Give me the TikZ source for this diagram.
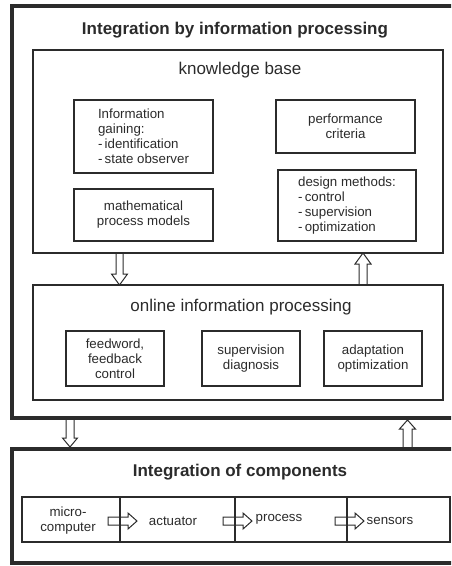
\documentclass[tikz,border=0pt]{standalone}
\usepackage{fontspec}
\setmainfont{Liberation Sans}
\usetikzlibrary{calc}
\definecolor{ink}{HTML}{2B2B2B}
\newcommand{\hblockarrow}[1]{%
  \draw[barrow] ($(#1.east)+(-12,-2.5)$) -- ($(#1.east)+(8,-2.5)$) -- ($(#1.east)+(8,-6.5)$)
    -- ($(#1.east)+(17,1.5)$) -- ($(#1.east)+(8,9.5)$) -- ($(#1.east)+(8,5.5)$)
    -- ($(#1.east)+(-12,5.5)$) -- cycle;}
\begin{document}
\begin{tikzpicture}[x=1pt,y=-1pt,
  outerbox/.style={draw=ink, line width=4pt, outer sep=0pt, inner sep=0pt, anchor=north west},
  box/.style={draw=ink, line width=1.4pt, outer sep=0pt, inner sep=0pt, text=ink,
              font=\fontsize{13.3}{15}\selectfont},
  celltext/.style={inner sep=0pt, text=ink, font=\fontsize{13.3}{15}\selectfont, align=center},
  bigtitle/.style={font=\bfseries\fontsize{17}{20}\selectfont, text=ink, inner sep=0pt},
  subtitle/.style={font=\fontsize{17}{20}\selectfont, text=ink, inner sep=0pt},
  barrow/.style={draw=ink, line width=1pt, line join=miter},
]
\useasboundingbox (0,0) rectangle (451,566);
\clip (0,0) rectangle (451,566);

% outer frames
\node[outerbox, minimum width=460pt, minimum height=412pt] (outer1) at (12,6) {};
\node[outerbox, minimum width=460pt, minimum height=114pt] (outer2) at (12,449) {};

\node[bigtitle] (t1) at (235,30) {Integration by information processing};

% knowledge base
\node[box, minimum width=410pt, minimum height=203pt] (kb) at (238,151.5) {};
\node[subtitle] (kbt) at (240,70) {knowledge base};
\node[box, minimum width=139pt, minimum height=73pt, align=left] (info) at (143.5,136.5)
  {Information\\gaining:\\-\,identification\\-\,state observer};
\node[box, minimum width=139pt, minimum height=53pt, align=center] (perf) at (345.5,126.5)
  {performance\\criteria};
\node[box, minimum width=139pt, minimum height=52pt, align=center] (math) at (143.5,215)
  {mathematical\\process models};
\node[box, minimum width=138pt, minimum height=71pt, align=left] (design) at (347,205.5)
  {design methods:\\-\,control\\-\,supervision\\-\,optimization};

% online information processing
\node[box, minimum width=410pt, minimum height=115pt] (oip) at (238,342.5) {};
\node[subtitle] (oipt) at (241,307) {online information processing};
\node[box, minimum width=98pt, minimum height=55pt, align=center] (feed) at (115,358.5)
  {feedword,\\feedback\\control};
\node[box, minimum width=98pt, minimum height=55pt, align=center] (sup) at (251,358.5)
  {supervision\\diagnosis};
\node[box, minimum width=98pt, minimum height=55pt, align=center] (adapt) at (373,358.5)
  {adaptation\\optimization};

% integration of components
\node[bigtitle] (t2) at (240,472) {Integration of components};
\node[box, minimum width=98pt, minimum height=45pt] (c1) at (71,519.5) {};
\node[box, minimum width=115pt, minimum height=45pt] (c2) at (177.5,519.5) {};
\node[box, minimum width=112pt, minimum height=45pt] (c3) at (291,519.5) {};
\node[box, minimum width=103pt, minimum height=45pt] (c4) at (398.5,519.5) {};
\node[celltext] (c1t) at (68,521) {micro-\\computer};
\node[celltext] (c2t) at (173,521) {actuator};
\node[celltext] (c3t) at (279,519.5) {process};
\node[celltext] (c4t) at (390,521) {sensors};

\hblockarrow{c1}
\hblockarrow{c2}
\hblockarrow{c3}

% block arrows between levels
\coordinate (a1) at (119.5,0);
\draw[barrow] ($(kb.south -| a1)+(-3.5,0)$) -- ($(oip.north -| a1)+(-3.5,-11)$)
  -- ($(oip.north -| a1)+(-8,-11)$) -- (oip.north -| a1) -- ($(oip.north -| a1)+(8,-11)$)
  -- ($(oip.north -| a1)+(3.5,-11)$) -- ($(kb.south -| a1)+(3.5,0)$);

\coordinate (a2) at (363,0);
\draw[barrow] ($(oip.north -| a2)+(-4,0)$) -- ($(kb.south -| a2)+(-4,11)$)
  -- ($(kb.south -| a2)+(-8,11)$) -- (kb.south -| a2) -- ($(kb.south -| a2)+(8,11)$)
  -- ($(kb.south -| a2)+(4,11)$) -- ($(oip.north -| a2)+(4,0)$);

\coordinate (a3) at (70,0);
\draw[barrow] ($(outer1.south -| a3)+(-4,2)$) -- ($(outer2.north -| a3)+(-4,-11)$)
  -- ($(outer2.north -| a3)+(-7.5,-11)$) -- ($(outer2.north -| a3)+(0,-2)$)
  -- ($(outer2.north -| a3)+(7.5,-11)$) -- ($(outer2.north -| a3)+(4,-11)$)
  -- ($(outer1.south -| a3)+(4,2)$);

\coordinate (a4) at (407.5,0);
\draw[barrow] ($(outer2.north -| a4)+(-4.5,-2)$) -- ($(outer1.south -| a4)+(-4.5,11)$)
  -- ($(outer1.south -| a4)+(-8,11)$) -- ($(outer1.south -| a4)+(0,2)$)
  -- ($(outer1.south -| a4)+(8,11)$) -- ($(outer1.south -| a4)+(4.5,11)$)
  -- ($(outer2.north -| a4)+(4.5,-2)$);
\end{tikzpicture}
\end{document}
